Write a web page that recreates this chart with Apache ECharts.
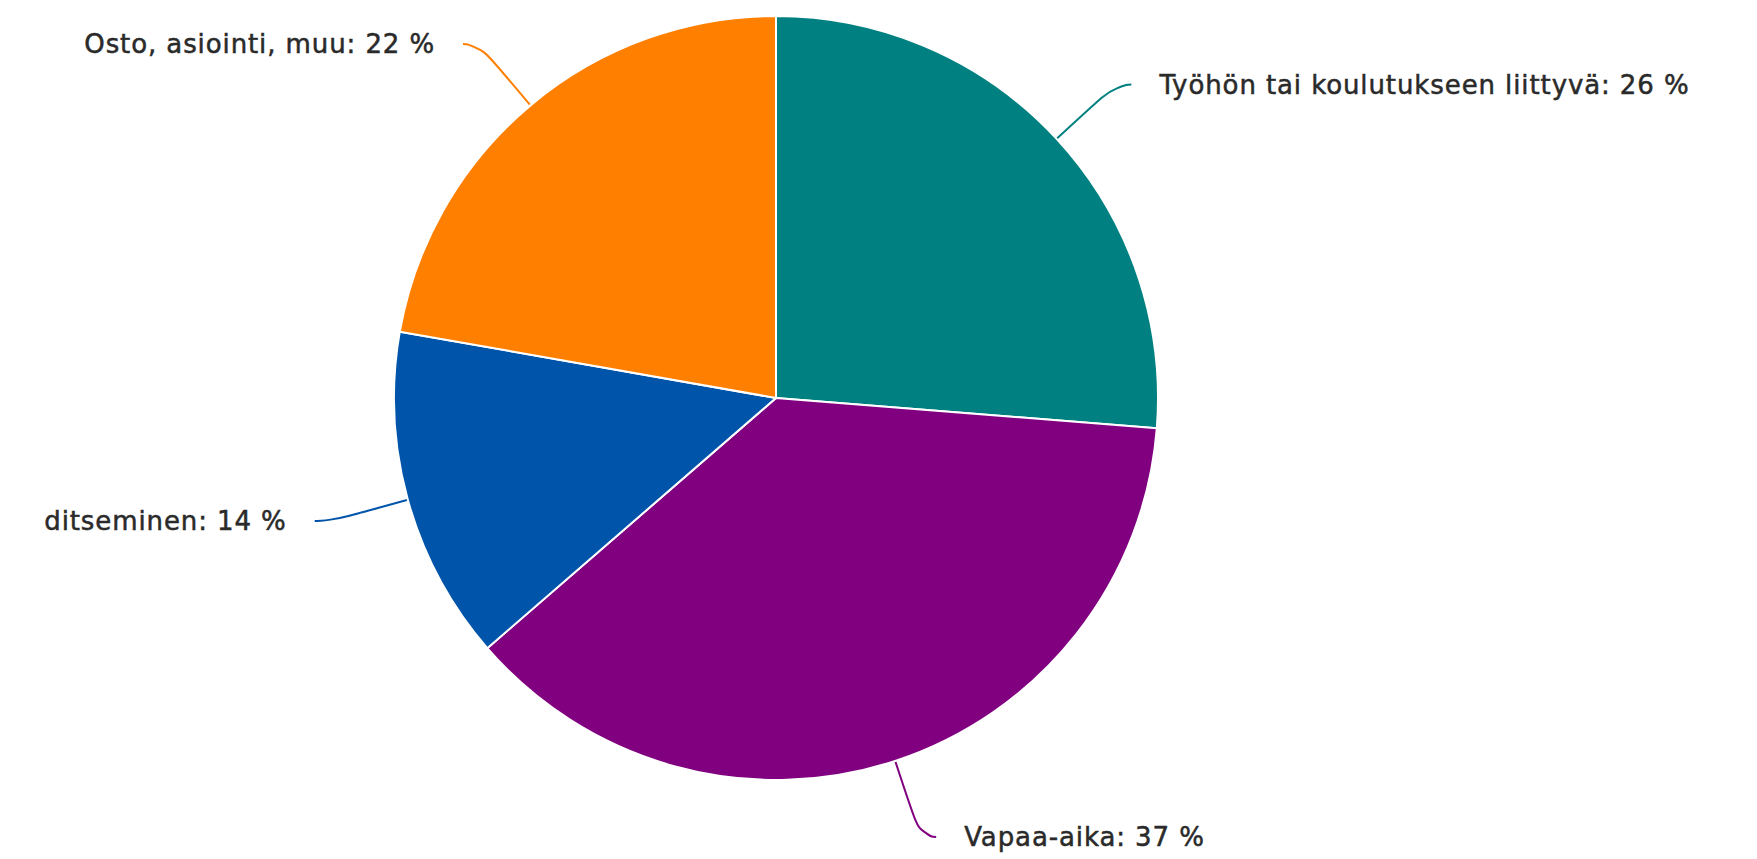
<!DOCTYPE html>
<html>
<head>
<meta charset="utf-8">
<script src="https://cdn.jsdelivr.net/npm/echarts@6/dist/echarts.min.js"></script>
<style>
html, body { margin: 0; padding: 0; background: #fff; }
#chart { width: 1757px; height: 859px; }
#chart text { letter-spacing: 0.9px; }
</style>
</head>
<body>
<div id="chart"></div>
<script>
// Matkan tarkoitus, osuudet (%)
var names = ['Työhön tai koulutukseen liittyvä', 'Vapaa-aika', 'ditseminen', 'Osto, asiointi, muu'];
var values = [26, 37, 14, 22];
var colors = ['#008080', '#800080', '#0055aa', '#ff7f00'];

var myChart = echarts.init(document.getElementById('chart'), null, { renderer: 'svg' });

var data = [];
for (var i = 0; i < names.length; i++) {
	data.push({ name: names[i], value: values[i], itemStyle: { color: colors[i] } });
}

var option = {
	animation: false,
	series: [{
		type: 'pie',
		center: [776, 398],
		radius: 382,
		startAngle: 90,
		clockwise: true,
		avoidLabelOverlap: false,
		itemStyle: {
			borderColor: '#fff',
			borderWidth: 2
		},
		label: {
			show: true,
			formatter: '{b}: {c} %',
			color: '#2a2a2a',
			textBorderColor: '#2a2a2a',
			textBorderWidth: 0.5,
			fontFamily: 'DejaVu Sans',
			fontSize: 26,
			padding: [15, 0, 0, 0],
			distanceToLabelLine: 28
		},
		labelLine: {
			show: true,
			length: 80,
			length2: 16,
			smooth: 0.7,
			lineStyle: { width: 2 }
		},
		data: data
	}]
};

myChart.setOption(option);
</script>
</body>
</html>
